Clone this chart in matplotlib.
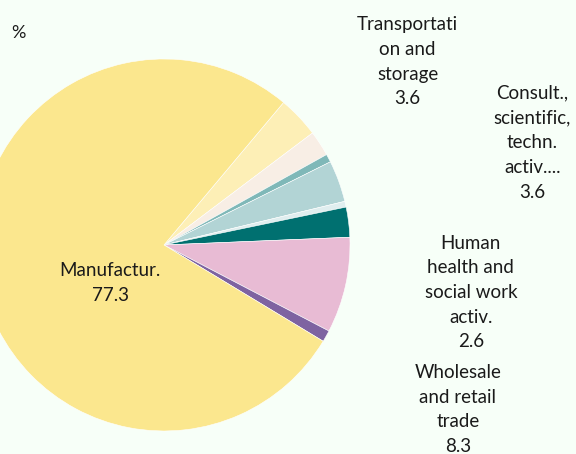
import matplotlib
matplotlib.use('Agg')
import matplotlib.pyplot as plt

# Slices in drawing order (clockwise from the top-right)
sectors = ['Transportation and storage', 'Other 1', 'Other 2',
           'Consult., scientific, techn. activ....', 'Other 3',
           'Human health and social work activ.',
           'Wholesale and retail trade', 'Other 4', 'Manufactur.']
values = [3.6, 2.2, 0.7, 3.6, 0.5, 2.6, 8.3, 1.0, 77.3]
colors = ['#FDEFB6', '#F8EEE5', '#7FB8B8', '#B2D4D5', '#E0EEEF',
          '#007070', '#E8BBD4', '#7E63A1', '#FBE78E']

# Labels shown on the chart: (text, value)
labels = [('Manufactur.', 77.3),
          ('Transportati\non and\nstorage', 3.6),
          ('Consult.,\nscientific,\ntechn.\nactiv....', 3.6),
          ('Human\nhealth and\nsocial work\nactiv.', 2.6),
          ('Wholesale\nand retail\ntrade', 8.3)]
label_pos = [(-0.29, -0.205), (1.31, 0.985), (1.98, 0.55), (1.65, -0.255), (1.58, -0.885)]

bg = '#F7FFF8'
plt.rcParams['font.family'] = ['Lato', 'DejaVu Sans']

fig = plt.figure(figsize=(5.76, 4.54), dpi=100, facecolor=bg)
ax = fig.add_axes([0, 0, 1, 1])
ax.set_facecolor(bg)

ax.pie(values, colors=colors, startangle=50, counterclock=False,
       radius=1.0, wedgeprops=dict(linewidth=0.4, edgecolor='white'))

for (txt, v), (x, y) in zip(labels, label_pos):
    ax.text(x, y, f'{txt}\n{v:.1f}', ha='center', va='center',
            fontsize=13.5, color='#1a1a1a', linespacing=1.55)

ax.text(-0.82, 1.14, '%', ha='left', va='center', fontsize=13, color='#1a1a1a')

ax.set_xlim(-0.8817, 2.215)
ax.set_ylim(-1.1237, 1.317)
ax.set_aspect('equal')
ax.axis('off')

plt.savefig('out.png', dpi=100, facecolor=bg)
